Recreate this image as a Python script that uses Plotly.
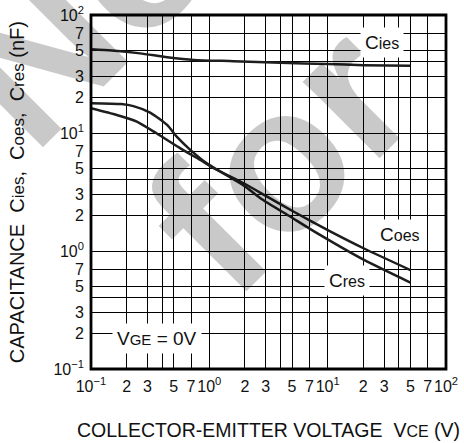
import numpy as np
import plotly.graph_objects as go

# ---- data ----
cies_v = [0.1, 0.15, 0.26, 0.44, 0.74, 1.6, 4.0, 10.0, 20.0, 50.0]
cies_c = [51.2, 50.0, 47.3, 43.9, 41.6, 40.6, 39.3, 38.5, 37.6, 37.1]

coes_v = [0.1, 0.165, 0.244, 0.36, 0.57, 0.84, 1.08, 1.95, 3.08, 5.18, 10.6, 20.3, 50.0]
coes_c = [16.2, 14.2, 12.5, 9.9, 7.4, 5.9, 5.05, 3.75, 2.89, 2.15, 1.46, 1.05, 0.69]

cres_v = [0.1, 0.18, 0.228, 0.316, 0.44, 0.53, 0.69, 0.96, 1.95, 2.7, 4.85, 8.2, 20.3, 50.0]
cres_c = [17.9, 17.6, 16.9, 14.9, 11.7, 9.3, 7.2, 5.5, 3.6, 2.8, 1.95, 1.41, 0.84, 0.54]

decades = [0.1, 1, 10]
mantissas = [1, 2, 3, 4, 5, 7]
mant_labels = {2: "2", 3: "3", 4: "", 5: "5", 7: "7"}
decade_labels = {0.1: "10<sup>−1</sup>", 1: "10<sup>0</sup>", 10: "10<sup>1</sup>", 100: "10<sup>2</sup>"}

tickvals, ticktext = [], []
for d in decades:
    for m in mantissas:
        tickvals.append(d * m)
        ticktext.append(decade_labels[d] if m == 1 else mant_labels[m])
tickvals.append(100)
ticktext.append(decade_labels[100])

FONT = "Liberation Sans, Arial, sans-serif"
LINE = "#1e1e1e"

fig = go.Figure()
for v, c in [(cies_v, cies_c), (coes_v, coes_c), (cres_v, cres_c)]:
    fig.add_trace(go.Scatter(x=v, y=c, mode="lines", line=dict(color=LINE, width=2.5, shape="spline", smoothing=0.6),
                             showlegend=False, hoverinfo="skip"))

axis_common = dict(type="log", range=[-1, 2], tickmode="array", tickvals=tickvals, ticktext=ticktext,
                   showgrid=True, gridcolor="#000000", gridwidth=1, zeroline=False, showline=False,
                   ticks="", tickfont=dict(family=FONT, size=16, color="#111"), ticklabelstandoff=6,
                   tickangle=0, automargin=False)

fig.update_layout(
    width=464, height=443,
    margin=dict(l=91, r=18, t=15, b=74, autoexpand=False),
    paper_bgcolor="white", plot_bgcolor="white",
    xaxis=dict(**axis_common),
    yaxis=dict(**axis_common),
    font=dict(family=FONT, color="#111"),
)

# watermark (semi-transparent so black lines stay black)
wm = "rgba(0,0,0,0.21)"
def px2paper(px, py):
    return (px - 91) / 355, (369 - py) / 354
for txt, (px, py) in [("<b>Not</b>", (104, -14)), ("<b>for</b>", (278, 158))]:
    xp, yp = px2paper(px, py)
    fig.add_annotation(text=txt, xref="paper", yref="paper", x=xp, y=yp, showarrow=False,
                       textangle=-45, font=dict(family=FONT, size=205, color=wm),
                       xanchor="center", yanchor="middle")

# frame
fig.add_shape(type="rect", xref="paper", yref="paper", x0=0, x1=1, y0=0, y1=1,
              line=dict(color="#000", width=2.8), layer="above")

def lab(text, x, y):
    fig.add_annotation(text=text, x=x, y=y, xref="x", yref="y", showarrow=False, bgcolor="white",
                       borderpad=4, font=dict(family=FONT, size=19, color="#111"))

small = lambda s, sz=16: f"<span style='font-size:{sz}px'>{s}</span>"
lab("C" + small("ies"), 1.458, 1.771)
lab("C" + small("oes"), 1.608, 0.138)
lab("C" + small("res"), 1.163, -0.246)
lab("V" + small("GE", 15) + " = 0V", -0.445, -0.743)

# axis titles
fig.add_annotation(text="COLLECTOR-EMITTER VOLTAGE\u00a0\u00a0V" + small("CE", 16) + " (V)",
                   xref="paper", yref="paper", x=0.5, y=-0.172, showarrow=False,
                   font=dict(family=FONT, size=19.5, color="#111"), xanchor="center", yanchor="middle")
fig.add_annotation(text="CAPACITANCE\u00a0\u00a0C" + small("ies", 17) + ",\u00a0\u00a0C" + small("oes", 17)
                   + ",\u00a0\u00a0C" + small("res", 17) + " (nF)",
                   xref="paper", yref="paper", x=-0.208, y=0.5, showarrow=False, textangle=-90,
                   font=dict(family=FONT, size=20, color="#111"), xanchor="center", yanchor="middle")

fig.write_html("out.html", config={"displayModeBar": False},
               post_script="document.body.style.margin='0px';document.body.style.overflow='hidden';")
